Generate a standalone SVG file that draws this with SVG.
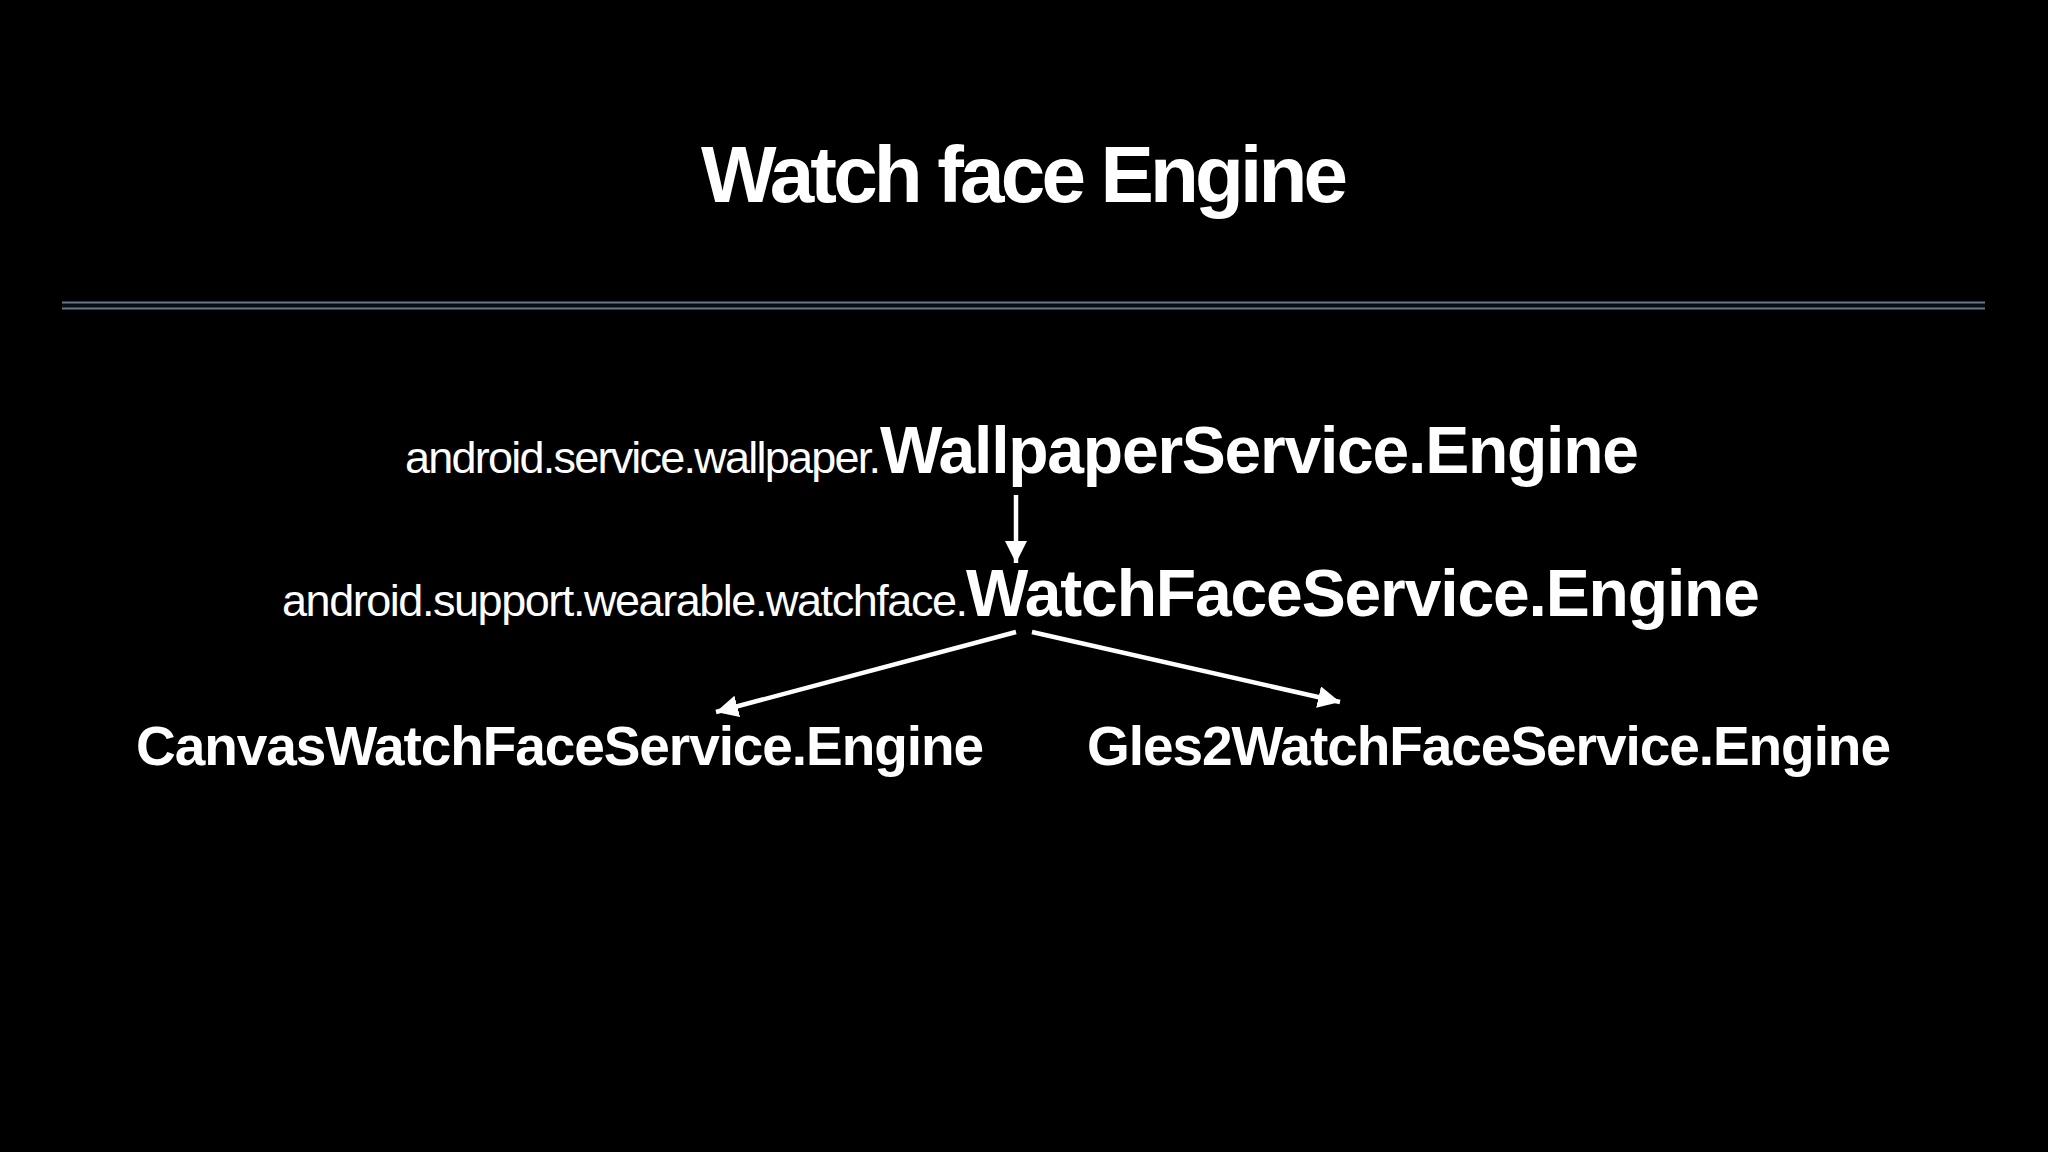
<svg xmlns="http://www.w3.org/2000/svg" width="2048" height="1152" viewBox="0 0 2048 1152">
  <defs>
    <style>
      .bold { font-family: "Liberation Sans", Arial, Helvetica, sans-serif; font-weight: bold; fill: #ffffff; }
      .light { font-family: "Liberation Sans", Arial, Helvetica, sans-serif; font-weight: normal; fill: #ffffff; }
      .rule { stroke: #66778a; stroke-width: 2; }
      .conn { stroke: #ffffff; stroke-width: 4.5; fill: none; }
    </style>
    <marker id="head" markerUnits="userSpaceOnUse" markerWidth="24" markerHeight="24" refX="22" refY="11" orient="auto">
      <path d="M0,0 L22,11 L0,22 Z" fill="#ffffff"/>
    </marker>
  </defs>
  <rect width="2048" height="1152" fill="#000000"/>

  <g id="title">
    <text class="bold" x="701" y="202" font-size="80" textLength="647">Watch face Engine</text>
  </g>

  <g id="divider">
    <rect x="62" y="302" width="1923" height="7" fill="#080c14"/>
    <line class="rule" x1="62" y1="302.5" x2="1985" y2="302.5"/>
    <line class="rule" x1="62" y1="308.5" x2="1985" y2="308.5"/>
  </g>

  <g id="node-wallpaper">
    <text class="light" x="405" y="473" font-size="45" textLength="476">android.service.wallpaper.</text>
    <text class="bold" x="880" y="473" font-size="66" textLength="759">WallpaperService.Engine</text>
  </g>

  <g id="node-watchface">
    <text class="light" x="282" y="616" font-size="45" textLength="686">android.support.wearable.watchface.</text>
    <text class="bold" x="966" y="616" font-size="66" textLength="794">WatchFaceService.Engine</text>
  </g>

  <g id="node-canvas">
    <text class="bold" x="136" y="765" font-size="55" textLength="848">CanvasWatchFaceService.Engine</text>
  </g>

  <g id="node-gles2">
    <text class="bold" x="1087" y="765" font-size="55" textLength="804">Gles2WatchFaceService.Engine</text>
  </g>

  <g id="connectors">
    <line class="conn" x1="1016" y1="495" x2="1016" y2="563" marker-end="url(#head)"/>
    <line class="conn" x1="1016" y1="632" x2="716" y2="712" marker-end="url(#head)"/>
    <line class="conn" x1="1032" y1="632" x2="1340" y2="702" marker-end="url(#head)"/>
  </g>
</svg>
